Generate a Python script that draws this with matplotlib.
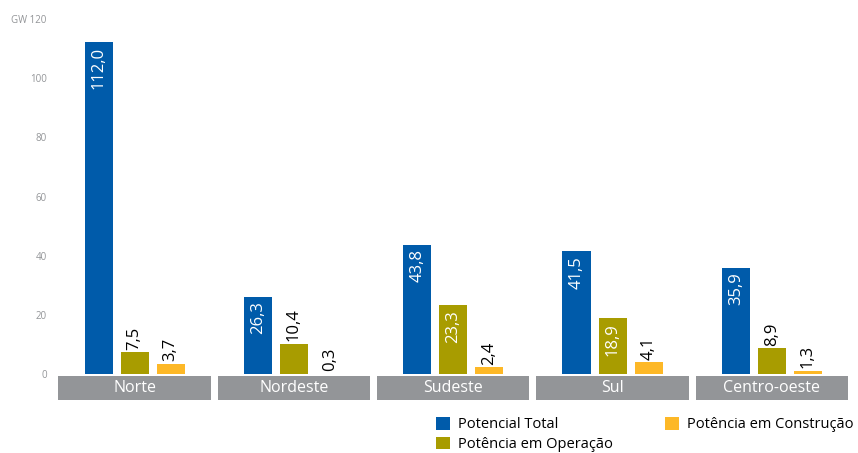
import matplotlib.pyplot as plt
import numpy as np

regioes = ['Norte', 'Nordeste', 'Sudeste', 'Sul', 'Centro-oeste']
potencial_total = [112.0, 26.3, 43.8, 41.5, 35.9]
potencia_operacao = [7.5, 10.4, 23.3, 18.9, 8.9]
potencia_construcao = [3.7, 0.3, 2.4, 4.1, 1.3]
series_nomes = ['Potencial Total', 'Potência em Operação', 'Potência em Construção']
yticks = [0, 20, 40, 60, 80, 100, 120]
ytick_labels = ['0', '20', '40', '60', '80', '100', 'GW 120']

cores = ['#005BAA', '#A89C00', '#FDB827']
cinza = '#939598'

plt.rcParams['font.family'] = ['Open Sans', 'DejaVu Sans']

fig = plt.figure(figsize=(8.58, 4.53), dpi=100)
ax = fig.add_axes([56.5 / 858, 53 / 453, 795 / 858, 384.3 / 453])

x = np.arange(len(regioes))
largura = 0.176
passo = 0.226
series = [potencial_total, potencia_operacao, potencia_construcao]

for i, (vals, cor, nome) in enumerate(zip(series, cores, series_nomes)):
    pos = x + (i - 1) * passo
    ax.bar(pos, vals, width=largura, color=cor, label=nome, zorder=2)
    for p, v in zip(pos, vals):
        txt = f'{v:.1f}'.replace('.', ',')
        if v >= 15:
            ax.text(p, v - 1.5, txt, rotation=90, ha='center', va='top',
                    color='white', fontsize=12)
        else:
            ax.text(p, v + 0.8, txt, rotation=90, ha='center', va='bottom',
                    color='black', fontsize=12)

# caixas cinzas com os nomes das regiões
ax.bar(x, 8.1, bottom=-8.6, width=0.955, color=cinza, zorder=1)
for xi, r in zip(x, regioes):
    ax.text(xi, -4.6, r, ha='center', va='center', color='white', fontsize=11.5)

ax.set_xlim(-0.49, 4.5)
ax.set_ylim(-8.6, 121)
ax.set_yticks(yticks)
ax.set_yticklabels(ytick_labels, fontsize=7, color=cinza)
ax.tick_params(axis='y', length=0, pad=7)
ax.set_xticks([])
for s in ax.spines.values():
    s.set_visible(False)

handles, labels = ax.get_legend_handles_labels()
fig.legend(handles, labels, ncol=2, loc='upper left', bbox_to_anchor=(436 / 858, 1 - 417 / 453),
           frameon=False, fontsize=10.5, handlelength=0.95, handleheight=0.95,
           handletextpad=0.55, columnspacing=3.6, labelspacing=0.3, borderaxespad=0,
           borderpad=0)

fig.savefig('out.png', dpi=100)
